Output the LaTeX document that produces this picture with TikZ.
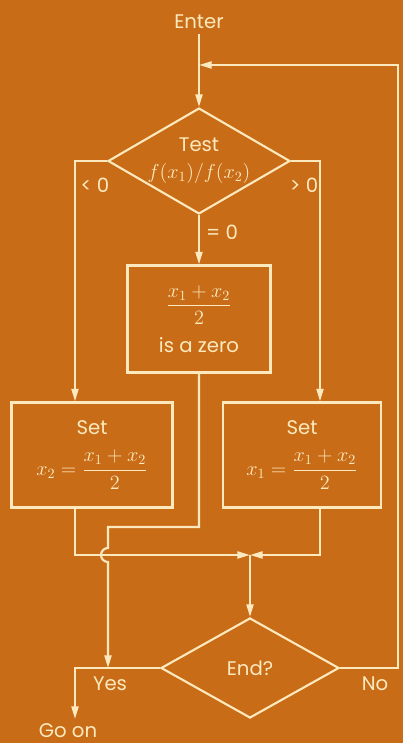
\documentclass[tikz,border=0pt]{standalone}
\usepackage{amsmath}
\usepackage{fontspec}
\setmainfont{Poppins}
\usetikzlibrary{positioning, arrows.meta, shapes.geometric}
\definecolor{chartbg}{RGB}{200,108,24}
\definecolor{chalk}{RGB}{252,234,190}

\begin{document}
\begin{tikzpicture}[x=0.025cm, y=0.025cm, font=\fontsize{14}{16}\selectfont,
  every node/.style={text=chalk},
  flow/.style={draw=chalk, line width=1.5pt},
  tip/.style={-{Triangle[length=9pt,width=5pt]}},
  box/.style={draw=chalk, line width=1.5pt, inner sep=0pt, align=center},
  query/.style={diamond, draw=chalk, line width=1.5pt, inner sep=0pt, aspect=1.7, align=center}]
  \useasboundingbox (0,0) rectangle (403,743);
  \fill[chartbg] (0,0) rectangle (403,743);
  % the steps
  \node (enter) at (199,721) {Enter};
  \node[query, minimum width=4.55cm, minimum height=2.625cm] (test) at (199,582) {Test\\[3pt] $f(x_1)/f(x_2)$};
  \node[box, minimum width=3.575cm, minimum height=2.675cm] (zero) at (199,424) {$\dfrac{x_1+x_2}{2}$\\[8pt] is a zero};
  \node[box, minimum width=4.025cm, minimum height=2.625cm] (setl) at (92,288) {Set\\[10pt] $x_2=\dfrac{x_1+x_2}{2}$};
  \node[box, minimum width=3.95cm, minimum height=2.625cm] (setr) at (302,288) {Set\\[10pt] $x_1=\dfrac{x_1+x_2}{2}$};
  \node[query, minimum width=4.45cm, minimum height=2.5cm] (endq) at (250,75) {End?};
  \node (goon) at (68,12) {Go on};
  % where the lines turn
  \coordinate (lt) at (75,580);
  \coordinate (rt) at (320,580);
  \coordinate (merge) at (250,188);
  \coordinate (bend) at (199,216);
  \coordinate (kink) at (108,216);
  \coordinate (out) at (75,75);
  \coordinate (back) at (398,678);
  \coordinate (entry) at (199,678);
  % connectors
  \draw[flow, tip] (enter) -- (test.north);
  \draw[flow, tip] (test.south) -- (zero.north);
  \draw[flow, tip] (test.west) -- (lt |- test.west) -- (lt |- setl.north);
  \draw[flow, tip] (test.east) -- (rt |- test.east) -- (rt |- setr.north);
  \draw[flow, tip] (lt |- setl.south) -- (lt |- merge) -- (merge);
  \draw[flow, tip] (rt |- setr.south) -- (rt |- merge) -- (merge);
  \draw[flow, tip] (merge) -- (endq.north);
  % the =0 line hops over the merge line
  \draw[flow, tip] (zero.south) -- (bend) -- (kink) -- ++(0,-21)
    arc[start angle=90, end angle=270, radius=7] -- (kink |- out);
  \draw[flow, tip] (endq.west) -- (out) -- (out |- goon.north);
  \draw[flow, tip] (endq.east) -- (endq.east -| back) -- (back) -- (entry);
  % branch labels
  \node (less) at (95,558) {< 0};
  \node (more) at (304,558) {> 0};
  \node (equal) at (222,511) {= 0};
  \node (yes) at (110,59) {Yes};
  \node (no) at (375,59) {No};
\end{tikzpicture}
\end{document}
